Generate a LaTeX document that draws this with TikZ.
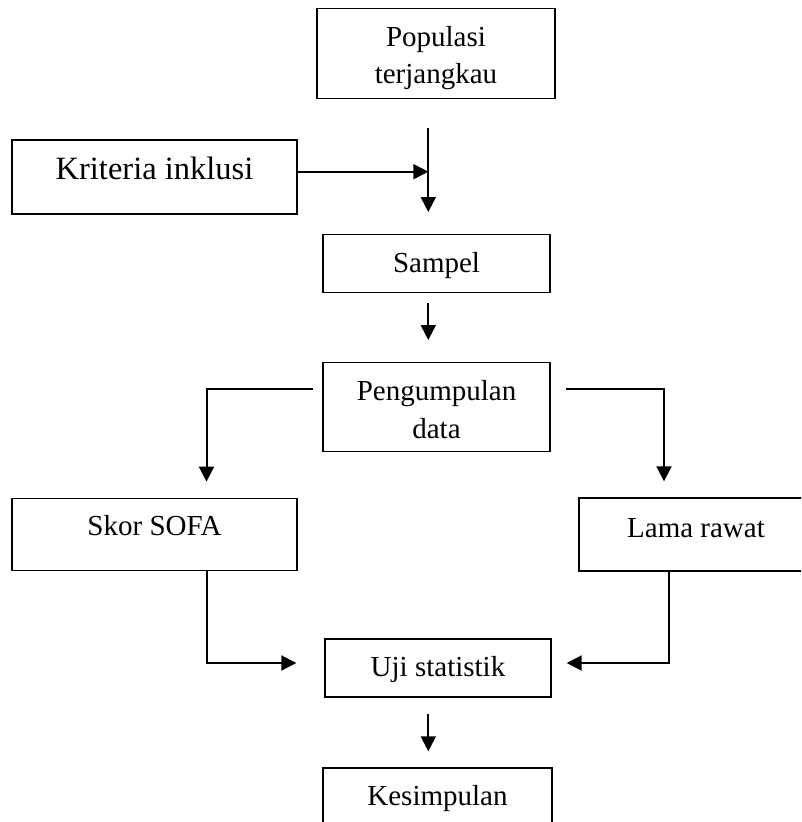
\documentclass[tikz,border=0pt]{standalone}
\usepackage{fontspec}
\setmainfont{Liberation Serif}
\usetikzlibrary{arrows.meta}
\tikzset{
  box/.style={draw, line width=1.4pt, rectangle, inner sep=0pt, align=center,
    font=\fontsize{29}{33}\selectfont, text depth=0pt},
  conn/.style={line width=2pt, -{Triangle[length=15pt,width=15pt]}}
}
\begin{document}
\begin{tikzpicture}[x=1pt,y=-1pt]
\useasboundingbox (0,0) rectangle (801,822);
\clip (0,0) rectangle (801,822);
% boxes
\node[box, minimum width=238pt, minimum height=90pt, text height=60pt, font=\fontsize{29}{36.6}\selectfont] (pop) at (436,53.3) {Populasi\\terjangkau};
\node[box, minimum width=285pt, minimum height=74pt, text height=4.6pt, font=\fontsize{32.5}{36}\selectfont] (kri) at (154.5,177) {Kriteria inklusi};
\node[box, minimum width=227pt, minimum height=58.4pt, text height=18.4pt] (sam) at (436.5,263.5) {Sampel};
\node[box, minimum width=227pt, minimum height=89pt, text height=62.2pt, font=\fontsize{29}{37.6}\selectfont] (peng) at (436.5,407.2) {Pengumpulan\\data};
\node[box, minimum width=285pt, minimum height=72.4pt, text height=1.5pt] (skor) at (154.5,534.5) {Skor SOFA};
\node[box, minimum width=234pt, minimum height=73pt, text height=5pt] (lama) at (696,534.5) {Lama rawat};
\node[box, minimum width=226pt, minimum height=58pt, text height=16pt] (uji) at (438,668) {Uji statistik};
\node[box, minimum width=229pt, minimum height=74pt, text height=0pt] (kes) at (437.5,805) {Kesimpulan};
% junction coordinates
\coordinate (j) at (428.3,171.7);
\coordinate (bl) at (206.5,389.3);
\coordinate (br) at (664,389.3);
\coordinate (cl) at (206.7,663);
\coordinate (cr) at (669,663);
% connectors
\draw[conn, shorten <=29pt, shorten >=21.6pt] (pop.south -| j) -- (sam.north -| j);
\draw[conn] (kri.east |- j) -- (j);
\draw[conn, shorten <=10pt, shorten >=22pt] (sam.south -| j) -- (peng.north -| j);
\draw[conn, shorten <=9pt, shorten >=16pt] (peng.west |- bl) -- (bl) -- (bl |- skor.north);
\draw[conn, shorten <=15pt, shorten >=16pt] (peng.east |- br) -- (br) -- (br |- lama.north);
\draw[conn, shorten >=28pt] (skor.south -| cl) -- (cl) -- (cl -| uji.west);
\draw[conn, shorten >=15pt] (lama.south -| cr) -- (cr) -- (cr -| uji.east);
\draw[conn, shorten <=16pt, shorten >=16pt] (uji.south -| j) -- (kes.north -| j);
\end{tikzpicture}
\end{document}
